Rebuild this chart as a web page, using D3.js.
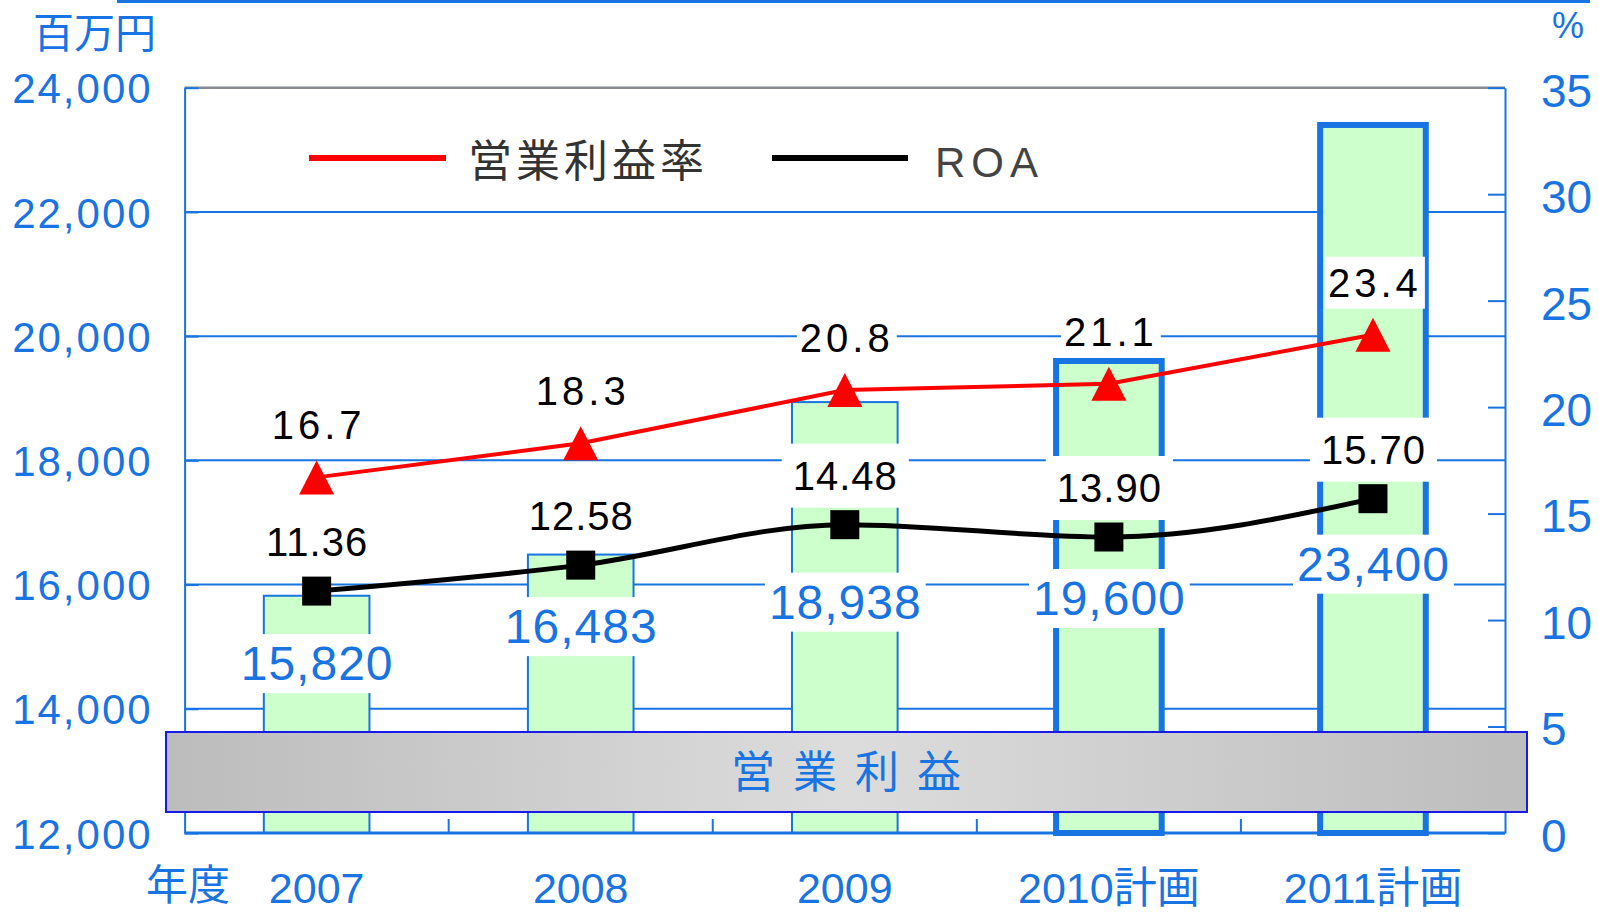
<!DOCTYPE html>
<html>
<head>
<meta charset="utf-8">
<script src="https://cdn.jsdelivr.net/npm/d3@7"></script>
<style>
  body { margin: 0; background: #fff; }
  svg { display: block; }
</style>
</head>
<body>
<svg width="1599" height="913"></svg>
<script>
// Chart data
const years = ["2007", "2008", "2009", "2010計画", "2011計画"];
const profit = [15820, 16483, 18938, 19600, 23400];   // 営業利益 (百万円)
const opMargin = [16.7, 18.3, 20.8, 21.1, 23.4];      // 営業利益率 (%)
const roa = [11.36, 12.58, 14.48, 13.90, 15.70];      // ROA (%)
const planned = [false, false, false, true, true];
const leftTicks = [12000, 14000, 16000, 18000, 20000, 22000, 24000];
const rightTicks = [0, 5, 10, 15, 20, 25, 30, 35];

// Layout
const plot = { left: 184.6, right: 1505, top: 87.7, bottom: 833 };
const barLabelDy = [89, 78, 94, 78, 82];   // profit label baseline below the ROA marker
const blue = "#1874e2";
const latin = "'Liberation Sans', Arial, sans-serif";
const cjk = "'Noto Sans CJK JP', 'Noto Sans', sans-serif";

const svg = d3.select("svg");
const rows = years.map((year, i) => ({
    year, profit: profit[i], opMargin: opMargin[i], roa: roa[i], planned: planned[i], dy: barLabelDy[i]
}));

const x = d3.scaleBand()
    .domain(years)
    .range([plot.left, plot.right])
    .paddingInner(0.6)
    .paddingOuter(0.3);
const cx = d => x(d) + x.bandwidth() / 2;

const y = d3.scaleLinear().domain([12000, 24000]).range([plot.bottom, plot.top]);
const y2 = d3.scaleLinear().domain([0, 35]).range([plot.bottom, plot.top]);

// gradient for the caption band
const grad = svg.append("defs").append("linearGradient").attr("id", "band");
grad.append("stop").attr("offset", "0%").attr("stop-color", "#bcbcbc");
grad.append("stop").attr("offset", "50%").attr("stop-color", "#dcdcdc");
grad.append("stop").attr("offset", "100%").attr("stop-color", "#bdbdbd");

// thin frame line at the very top
svg.append("line")
    .attr("x1", 117).attr("x2", 1590)
    .attr("y1", 1.5).attr("y2", 1.5)
    .attr("stroke", blue).attr("stroke-width", 3);

// gridlines
svg.append("g").selectAll("line")
    .data(leftTicks.slice(1, -1))
    .enter().append("line")
    .attr("x1", plot.left).attr("x2", plot.right)
    .attr("y1", d => y(d)).attr("y2", d => y(d))
    .attr("stroke", blue).attr("stroke-width", 2);

svg.append("line")
    .attr("x1", plot.left).attr("x2", plot.right)
    .attr("y1", y(24000)).attr("y2", y(24000))
    .attr("stroke", "#868a90").attr("stroke-width", 2.5);

// bars
svg.append("g").selectAll("rect")
    .data(rows)
    .enter().append("rect")
    .attr("x", d => x(d.year))
    .attr("y", d => y(d.profit))
    .attr("width", x.bandwidth())
    .attr("height", d => y(12000) - y(d.profit))
    .attr("fill", "#ccffcc")
    .attr("stroke", blue)
    .attr("stroke-width", d => d.planned ? 6 : 2);

// left axis
const leftAxis = svg.append("g")
    .attr("transform", `translate(${plot.left},0)`)
    .call(d3.axisLeft(y).tickValues(leftTicks).tickFormat(d3.format(","))
        .tickSizeInner(-14).tickSizeOuter(0).tickPadding(32));
leftAxis.selectAll("path, line").attr("stroke", blue).attr("stroke-width", 2);
leftAxis.selectAll("text")
    .attr("fill", blue).attr("dy", "0.36em")
    .style("font-family", latin).style("font-size", "42px").style("letter-spacing", "2px");

// right axis
const rightAxis = svg.append("g")
    .attr("transform", `translate(${plot.right},0)`)
    .call(d3.axisRight(y2).tickValues(rightTicks)
        .tickSizeInner(-17).tickSizeOuter(0).tickPadding(36));
rightAxis.selectAll("path, line").attr("stroke", blue).attr("stroke-width", 2);
rightAxis.selectAll("text")
    .attr("fill", blue).attr("dy", "0.4em")
    .style("font-family", latin).style("font-size", "46px");

// bottom axis with ticks between categories
svg.append("line")
    .attr("x1", plot.left).attr("x2", plot.right)
    .attr("y1", plot.bottom).attr("y2", plot.bottom)
    .attr("stroke", blue).attr("stroke-width", 3);
svg.append("g").selectAll("line")
    .data(years.slice(0, -1))
    .enter().append("line")
    .attr("x1", d => cx(d) + x.step() / 2).attr("x2", d => cx(d) + x.step() / 2)
    .attr("y1", plot.bottom).attr("y2", plot.bottom - 14)
    .attr("stroke", blue).attr("stroke-width", 2);

// category labels
svg.append("g").selectAll("text")
    .data(years)
    .enter().append("text")
    .attr("x", d => cx(d))
    .attr("y", 903)
    .attr("text-anchor", "middle")
    .attr("fill", blue)
    .style("font-family", `${latin.split(",")[0]}, ${cjk}`)
    .style("font-size", "43px")
    .text(d => d);
svg.append("text")
    .attr("x", 146).attr("y", 900)
    .attr("fill", blue)
    .style("font-family", cjk).style("font-size", "42px")
    .text("年度");

// unit labels
svg.append("text")
    .attr("x", 33).attr("y", 48)
    .attr("fill", blue)
    .style("font-family", cjk).style("font-size", "41px")
    .text("百万円");
svg.append("text")
    .attr("x", 1552).attr("y", 38)
    .attr("fill", blue)
    .style("font-family", "'Liberation Sans Narrow', " + latin).style("font-size", "36px")
    .text("%");

// caption band 営業利益
svg.append("rect")
    .attr("x", 166).attr("y", 732)
    .attr("width", 1527 - 166).attr("height", 80)
    .attr("fill", "url(#band)")
    .attr("stroke", "#1a1ae8").attr("stroke-width", 2);
svg.append("text")
    .attr("x", 731).attr("y", 788)
    .attr("fill", blue)
    .style("font-family", cjk).style("font-size", "44px").style("letter-spacing", "18px")
    .text("営業利益");

// legend
const legend = svg.append("g");
legend.append("line")
    .attr("x1", 309).attr("x2", 446).attr("y1", 158).attr("y2", 158)
    .attr("stroke", "#ff0000").attr("stroke-width", 6);
legend.append("text")
    .attr("x", 468).attr("y", 177)
    .attr("fill", "#333")
    .style("font-family", cjk).style("font-size", "44px").style("letter-spacing", "4px")
    .text("営業利益率");
legend.append("line")
    .attr("x1", 772).attr("x2", 908).attr("y1", 158).attr("y2", 158)
    .attr("stroke", "#000").attr("stroke-width", 6);
legend.append("text")
    .attr("x", 935).attr("y", 177)
    .attr("fill", "#444")
    .style("font-family", "'Liberation Sans Narrow', " + latin).style("font-size", "42px").style("letter-spacing", "6px")
    .text("ROA");

// lines
svg.append("path")
    .datum(rows)
    .attr("fill", "none")
    .attr("stroke", "#ff0000")
    .attr("stroke-width", 4)
    .attr("d", d3.line().x(d => cx(d.year)).y(d => y2(d.opMargin)));

svg.append("path")
    .datum(rows)
    .attr("fill", "none")
    .attr("stroke", "#000")
    .attr("stroke-width", 5)
    .attr("d", d3.line().curve(d3.curveMonotoneX).x(d => cx(d.year)).y(d => y2(d.roa)));

// markers
svg.append("g").selectAll("path")
    .data(rows)
    .enter().append("path")
    .attr("transform", d => `translate(${cx(d.year)},${y2(d.opMargin)})`)
    .attr("d", "M0,-17L17.5,17L-17.5,17Z")
    .attr("fill", "#ff0000");

svg.append("g").selectAll("rect")
    .data(rows)
    .enter().append("rect")
    .attr("x", d => cx(d.year) - 14.5)
    .attr("y", d => y2(d.roa) - 14.5)
    .attr("width", 29).attr("height", 29)
    .attr("fill", "#000");

// boxed data labels
function boxLabel(px, py, text, color, size, spacing, padX, padY) {
    const g = svg.append("g");
    const t = g.append("text")
        .attr("x", px + spacing / 2).attr("y", py)
        .attr("text-anchor", "middle")
        .attr("fill", color)
        .style("font-family", latin)
        .style("font-size", size + "px")
        .style("letter-spacing", spacing + "px")
        .text(text);
    const b = t.node().getBBox();
    g.insert("rect", "text")
        .attr("x", b.x - padX).attr("y", b.y - padY)
        .attr("width", b.width + padX * 2).attr("height", b.height + padY * 2)
        .attr("fill", "#fff");
}

rows.forEach(d => {
    boxLabel(cx(d.year), y2(d.opMargin) - 38, d3.format(".1f")(d.opMargin), "#000", 40, 4, 3, 4);
    boxLabel(cx(d.year), y2(d.roa) - 35, d3.format(".2f")(d.roa), "#000", 40, 1, 11, 10);
    boxLabel(cx(d.year), y2(d.roa) + d.dy, d3.format(",")(d.profit), blue, 48, 1, 4, 3);
});
</script>
</body>
</html>
